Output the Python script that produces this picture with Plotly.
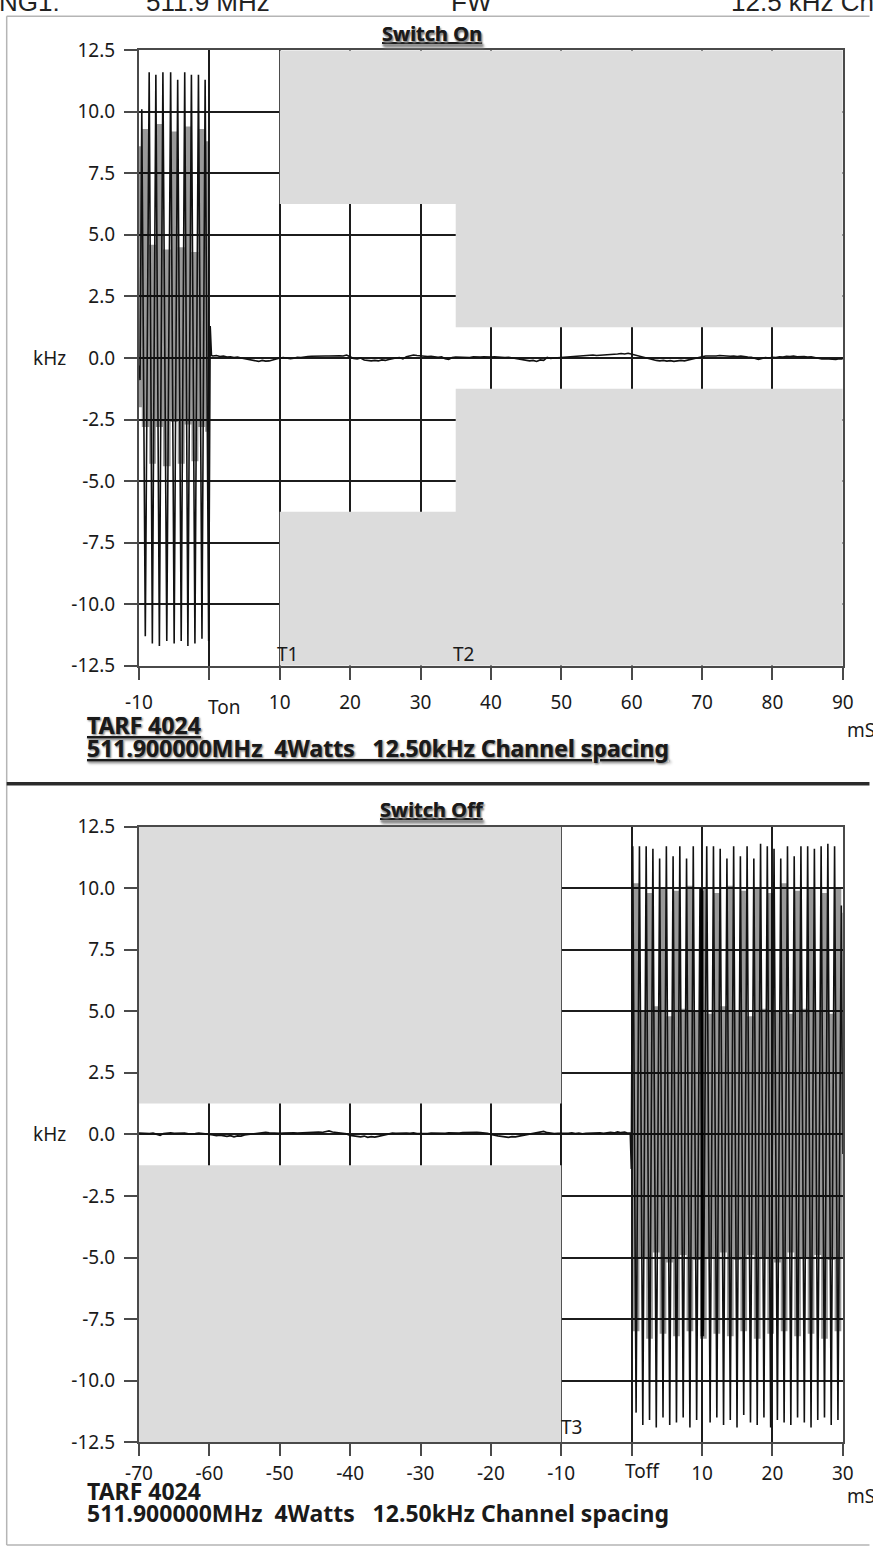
import numpy as np
import plotly.graph_objects as go

W, H = 873, 1556

# The photographed picture shows the page slightly shrunk with a thin margin;
# layout positions below are given in picture pixels and mapped back to page pixels.
SX, OX, SY, OY = 0.984, 13.4, 0.984, 12.8


def RX(p):
    return (p - OX) / SX


def RY(p):
    return (p - OY) / SY


def px_x(p):
    return RX(p) / W


def px_y(p):
    return 1 - RY(p) / H


# ======================= DATA =======================
# ---- Switch On panel (time in mS, deviation in kHz) ----
on_burst_ms = [-10.0, -9.85, -9.6, -9.1, -8.55, -8.1, -7.6, -7.1, -6.6, -6.05,
               -5.5, -5.0, -4.5, -4.0, -3.5, -3.05, -2.55, -2.05, -1.55, -1.05,
               -0.6, -0.1, 0.12, 0.3]
on_burst_khz = [-0.3, -0.9, 10.1, -11.3, 11.6, -11.6, 11.5, -11.7, 11.6, -11.5,
                11.6, -11.6, 11.3, -11.5, 11.6, -11.7, 11.5, -11.6, 11.5, -11.4,
                11.3, -11.5, 1.3, 0.1]
# residual deviation after Ton, sampled every 0.5 mS from 0.5 mS
on_noise_khz = [
    0.08, 0.1, 0.06, 0.08,
    0.04, 0.05, 0.02, 0.04, 0.0, -0.03, -0.06,
    -0.1, -0.12, -0.14, -0.1, -0.13, -0.12, -0.08, -0.02, 0.0,
    0.02, 0.0, -0.03, -0.01, 0.03, 0.02, 0.05, 0.06,
    0.07, 0.08, 0.08, 0.09, 0.08, 0.08, 0.09, 0.08, 0.09, 0.08, 0.12, 0.05,
    -0.02, -0.04, 0.0, -0.08, -0.1, -0.12, -0.1, -0.12,
    -0.08, -0.1, -0.06, -0.02, 0.0, 0.02, -0.04, 0.05,
    0.1, 0.12, 0.1, 0.08, 0.09, 0.06, 0.07, 0.04, 0.03, 0.05, -0.03,
    -0.06, 0.02, 0.04, 0.03, 0.05, 0.04, 0.02, 0.05, 0.03, 0.04, 0.05, 0.03, 0.04,
    0.05, 0.03, 0.04, 0.02, 0.03, 0.0, -0.03, -0.05, -0.08, -0.1, -0.12, -0.1,
    -0.14, -0.08, -0.1, 0.02, -0.02, 0.0, 0.01, 0.03, 0.02, 0.04, 0.05, 0.07,
    0.08, 0.09, 0.1, 0.1, 0.12, 0.1, 0.11, 0.1, 0.12, 0.14, 0.12, 0.16,
    0.18, 0.16, 0.19, 0.15, 0.13, 0.08, 0.06, 0.02,
    -0.04, -0.08, -0.1, -0.12, -0.1, -0.13, -0.11, -0.14, -0.12, -0.1, -0.12, -0.08, -0.06, -0.02,
    0.02, 0.05, 0.08, 0.07, 0.09, 0.08, 0.1, 0.08, 0.09, 0.07, 0.08, 0.06, 0.08, 0.05, 0.04, 0.03,
    -0.02, -0.06, -0.02, 0.02, 0.0, 0.03, 0.02,
    0.05, 0.04, 0.07, 0.06, 0.08, 0.05, 0.07, 0.06, 0.04, 0.05, 0.02,
    -0.02, -0.04, -0.03, -0.05, -0.04, -0.06, -0.03, -0.04,
]
on_noise_step_ms = 0.5
# dense part of the burst (grey smear), column edges + envelopes
on_band_ms = [-10.0, -9.6, -8.55, -7.6, -6.6, -5.5, -4.5, -3.5, -2.55, -1.55, -0.6, -0.05]
on_band_hi = [8.6, 9.3, 4.6, 9.5, 4.4, 9.2, 4.5, 9.4, 4.3, 9.3, 8.8, 8.8]
on_band_lo = [-2.0, -2.8, -4.3, -2.8, -4.4, -2.6, -4.3, -2.7, -4.2, -2.8, -3.0, -3.0]
# limit mask: T1..T2 and T2..end
on_mask_ms = [10, 35, 90]
on_mask_khz = [6.25, 1.25]
on_xticks = [-10, 0, 10, 20, 30, 40, 50, 60, 70, 80, 90]
on_xtick_text = ["-10", "", "10", "20", "30", "40", "50", "60", "70", "80", "90"]

# ---- Switch Off panel ----
off_noise_start_ms = -70.0
off_noise_step_ms = 0.5
off_noise_khz = [
    0.05, 0.04, 0.06, 0.03, 0.05, 0.02, -0.04, 0.03, 0.05, 0.06, 0.04, 0.05,
    0.07, 0.05, 0.02, 0.04, 0.03, 0.05, 0.04, 0.02,
    0.0, -0.02, -0.05, -0.03, -0.06, -0.08, -0.05, -0.1, -0.06, -0.07,
    -0.02, 0.0, 0.03, 0.05, 0.04, 0.06, 0.08, 0.06, 0.05, 0.03,
    0.04, 0.05, 0.06, 0.05, 0.06, 0.05, 0.06, 0.07, 0.08, 0.06,
    0.07, 0.09, 0.08, 0.12, 0.14, 0.1, 0.08, 0.06, 0.04, 0.02,
    -0.04, -0.06, -0.08, -0.1, -0.07, -0.12, -0.09, -0.11, -0.08, -0.05,
    -0.02, 0.03, 0.05, 0.04, 0.05, 0.06, 0.05, 0.04, 0.06, 0.03,
    0.02, 0.04, 0.03, 0.05, 0.04, 0.03, 0.05, 0.04, 0.06, 0.05,
    0.06, 0.05, 0.07, 0.08, 0.07, 0.09, 0.08, 0.07, 0.06, 0.04,
    0.0, -0.04, -0.06, -0.08, -0.1, -0.12, -0.09, -0.1, -0.07, -0.04,
    -0.02, 0.02, 0.04, 0.05, 0.08, 0.12, 0.07, 0.05, 0.03, 0.04,
    0.03, 0.05, 0.04, 0.06, 0.03, 0.05, 0.02, 0.04, 0.05, 0.03,
    0.05, 0.06, 0.04, 0.07, 0.08, 0.06, 0.1, 0.07, 0.09, 0.05,
]
off_lead_ms = [-0.2, -0.05]
off_lead_khz = [0.05, -1.4]
off_burst_start_ms = 0.15
off_burst_half_period_ms = 0.478
off_burst_peaks = [11.7, 11.7, 11.7, 11.6, 11.2, 11.7, 11.3, 11.7, 11.2, 11.7, 10.0,
                   11.7, 11.7, 11.6, 11.2, 11.7, 11.3, 11.7, 11.2, 11.8, 11.7, 11.6,
                   11.2, 11.7, 11.3, 11.7, 11.7, 11.6, 11.7, 11.8, 11.7, 9.3]
off_burst_troughs = [-11.3, -11.8, -11.6, -11.9, -11.5, -11.8, -11.7, -11.5, -11.9, -11.6,
                     -8.2, -11.7, -11.5, -11.8, -11.6, -11.9, -11.4, -11.7, -11.8, -11.5,
                     -11.9, -11.6, -11.7, -11.8, -11.5, -11.7, -11.9, -11.6, -11.5, -11.8,
                     -11.6]
off_tail_ms = [30.0]
off_tail_khz = [-0.8]
off_glitch_ms = [9.9, 9.97, 10.03, 10.1]
off_glitch_khz = [10.0, -8.2, 9.9, -8.0]
off_band_hi = [10.2, 5.0, 9.8, 5.2, 10.0, 4.8, 9.9, 5.1, 10.1, 5.0, 10.0, 4.9, 9.8, 5.2,
               10.1, 5.0, 9.9, 4.8, 10.0, 5.1, 9.8, 5.0, 10.2, 4.9, 9.9, 5.1, 10.0, 5.0,
               9.8, 4.9, 10.0, 9.0, 9.0]
off_band_lo = [-8.0, -5.0, -8.3, -4.8, -8.1, -5.2, -8.2, -4.9, -8.0, -5.1, -8.3, -5.0,
               -8.1, -4.8, -8.2, -5.1, -8.0, -4.9, -8.3, -5.0, -8.1, -5.2, -8.0, -4.8,
               -8.2, -5.0, -8.1, -4.9, -8.3, -5.1, -8.0, -5.0, -5.0]
off_mask_ms = [-70, -10]
off_mask_khz = [1.25]
off_xticks = [-70, -60, -50, -40, -30, -20, -10, 0, 10, 20, 30]
off_xtick_text = ["-70", "-60", "-50", "-40", "-30", "-20", "-10", "", "10", "20", "30"]

y_ticks = [12.5, 10.0, 7.5, 5.0, 2.5, 0.0, -2.5, -5.0, -7.5, -10.0, -12.5]
y_tick_text = ["12.5", "10.0", "7.5", "5.0", "2.5", "0.0", "-2.5", "-5.0", "-7.5", "-10.0", "-12.5"]

header_labels = ["NG1:", "511.9 MHz", "FW", "12.5 kHz Ch"]
caption_1 = "TARF 4024"
caption_2 = "511.900000MHz\u00a0\u00a04Watts\u00a0\u00a0\u00a012.50kHz Channel spacing"

# ======================= BUILD =======================
FONT = "Noto Sans, Open Sans, sans-serif"
INK = "#111111"
GRID = "#1c1c1c"
MASK = "#dcdcdc"
BAND = "rgba(0,0,0,0.40)"

on_noise_ms = (np.arange(len(on_noise_khz)) + 1) * on_noise_step_ms
on_x = list(on_burst_ms) + list(on_noise_ms)
on_y = list(on_burst_khz) + list(on_noise_khz)

off_noise_ms = off_noise_start_ms + np.arange(len(off_noise_khz)) * off_noise_step_ms
off_burst_vals = []
for i in range(len(off_burst_peaks)):
    off_burst_vals.append(off_burst_peaks[i])
    if i < len(off_burst_troughs):
        off_burst_vals.append(off_burst_troughs[i])
off_burst_ms = off_burst_start_ms + np.arange(len(off_burst_vals)) * off_burst_half_period_ms
off_x = list(off_noise_ms) + off_lead_ms + list(off_burst_ms) + off_tail_ms
off_y = list(off_noise_khz) + off_lead_khz + off_burst_vals + off_tail_khz
off_band_ms = list(off_burst_ms[0::2]) + off_tail_ms

fig = go.Figure()


def add_band(xs, lo, hi, xa, ya):
    fig.add_trace(go.Scatter(x=xs, y=lo, mode="lines", line=dict(width=0, shape="hv"),
                             xaxis=xa, yaxis=ya, hoverinfo="skip", showlegend=False))
    fig.add_trace(go.Scatter(x=xs, y=hi, mode="lines", line=dict(width=0, shape="hv"),
                             fill="tonexty", fillcolor=BAND,
                             xaxis=xa, yaxis=ya, hoverinfo="skip", showlegend=False))


add_band(on_band_ms, on_band_lo, on_band_hi, "x", "y")
fig.add_trace(go.Scatter(x=on_x, y=on_y, mode="lines", line=dict(color=INK, width=1.6),
                         xaxis="x", yaxis="y", hoverinfo="skip", showlegend=False))

add_band(off_band_ms, off_band_lo, off_band_hi, "x2", "y2")
fig.add_trace(go.Scatter(x=off_x, y=off_y, mode="lines", line=dict(color=INK, width=1.6),
                         xaxis="x2", yaxis="y2", hoverinfo="skip", showlegend=False))
fig.add_trace(go.Scatter(x=off_glitch_ms, y=off_glitch_khz, mode="lines",
                         line=dict(color="#000000", width=2.2),
                         xaxis="x2", yaxis="y2", hoverinfo="skip", showlegend=False))

# limit masks
shapes = []


def mask_path(ts, lims, ymax, sign):
    pts = [(ts[0], sign * ymax)]
    for i, lim in enumerate(lims):
        pts.append((ts[i], sign * lim))
        pts.append((ts[i + 1], sign * lim))
    pts.append((ts[-1], sign * ymax))
    return "M " + " L ".join(f"{a},{b}" for a, b in pts) + " Z"


for sign in (1, -1):
    shapes.append(dict(type="path", xref="x", yref="y", layer="between",
                       path=mask_path(on_mask_ms, on_mask_khz, 12.5, sign),
                       fillcolor=MASK, line=dict(width=0)))
    shapes.append(dict(type="path", xref="x2", yref="y2", layer="between",
                       path=mask_path(off_mask_ms, off_mask_khz, 12.5, sign),
                       fillcolor=MASK, line=dict(width=0)))

# outer frame and separator (picture pixels)
frame_col = "#b5b5b5"
shapes.append(dict(type="line", xref="paper", yref="paper", x0=px_x(6), x1=px_x(6),
                   y0=px_y(1546), y1=px_y(16), line=dict(color=frame_col, width=1.5)))
shapes.append(dict(type="line", xref="paper", yref="paper", x0=px_x(6), x1=px_x(880),
                   y0=px_y(16), y1=px_y(16), line=dict(color=frame_col, width=1.5)))
shapes.append(dict(type="line", xref="paper", yref="paper", x0=px_x(6), x1=px_x(880),
                   y0=px_y(1546), y1=px_y(1546), line=dict(color=frame_col, width=1.5)))
shapes.append(dict(type="line", xref="paper", yref="paper", x0=px_x(6), x1=px_x(880),
                   y0=px_y(784), y1=px_y(784), line=dict(color="#2a2a2a", width=3.5)))

tick_font = dict(family=FONT, size=19, color="#1a1a1a")
axis_common = dict(showline=True, mirror=True, linecolor="#4a4a4a", linewidth=2,
                   showgrid=True, gridcolor=GRID, gridwidth=1.7, zeroline=False,
                   ticks="outside", tickcolor="#4a4a4a", tickwidth=1.5,
                   tickfont=tick_font)

x_dom = [px_x(140), px_x(853)]
fig.update_layout(
    width=W, height=H, margin=dict(l=0, r=0, t=0, b=0),
    paper_bgcolor="white", plot_bgcolor="white", showlegend=False,
    xaxis=dict(domain=x_dom, range=[-10, 90], anchor="y", tickvals=on_xticks,
               ticktext=on_xtick_text, ticklen=12, ticklabelstandoff=6, **axis_common),
    yaxis=dict(domain=[px_y(666), px_y(50)], range=[-12.5, 12.5], anchor="x",
               tickvals=y_ticks, ticktext=y_tick_text, ticklen=13,
               ticklabelstandoff=5, **axis_common),
    xaxis2=dict(domain=x_dom, range=[-70, 30], anchor="y2", tickvals=off_xticks,
                ticktext=off_xtick_text, ticklen=12, ticklabelstandoff=1, **axis_common),
    yaxis2=dict(domain=[px_y(1443), px_y(827)], range=[-12.5, 12.5], anchor="x2",
                tickvals=y_ticks, ticktext=y_tick_text, ticklen=13,
                ticklabelstandoff=5, **axis_common),
    shapes=shapes,
)

ann = []
txt = dict(family=FONT, size=19, color="#1a1a1a")
bold = dict(family=FONT, size=23, color="#1a1a1a")


def A(text, x, y, xref="paper", yref="paper", xanchor="center", yanchor="middle", font=txt, **kw):
    ann.append(dict(text=text, x=x, y=y, xref=xref, yref=yref, xanchor=xanchor,
                    yanchor=yanchor, showarrow=False, font=font, **kw))


# header, cut by the top edge of the picture
for label, xp in zip(header_labels, [-4, 145, 454, 738]):
    A(label, px_x(xp), px_y(2), xanchor="left",
      font=dict(family="Liberation Sans, Arial", size=26, color="#222"))

# titles
title_font = dict(family=FONT, size=20, color="#1a1a1a", shadow="1px 2px 2px #888")
A("<b><u>Switch On</u></b>", px_x(437), px_y(33), font=title_font)
A("<b><u>Switch Off</u></b>", px_x(437), px_y(810), font=title_font)

# kHz labels
A("kHz", px_x(49), 0, yref="y")
A("kHz", px_x(49), 0, yref="y2")

# marker labels
A("T1", px_x(290), px_y(654), font=txt)
A("T2", px_x(469), px_y(654), font=txt)
A("T3", px_x(578), px_y(1428), font=txt)
A("Ton", px_x(226), px_y(707), font=txt)
A("Toff", px_x(650), px_y(1472), font=txt)

# mS (cut by the right edge of the picture)
A("mS", px_x(855), px_y(730), xanchor="left", font=txt)
A("mS", px_x(855), px_y(1497), xanchor="left", font=txt)

# captions
cap_shadow = dict(bold, shadow="1px 1px 2px #999")
A(f"<b><u>{caption_1}</u></b>", px_x(85), px_y(725), xanchor="left", font=cap_shadow)
A(f"<b><u>{caption_2}</u></b>", px_x(85), px_y(748), xanchor="left", font=cap_shadow)
A(f"<b>{caption_1}</b>", px_x(85), px_y(1492), xanchor="left", font=bold)
A(f"<b>{caption_2}</b>", px_x(85), px_y(1514), xanchor="left", font=bold)

fig.update_layout(annotations=ann)

page_fix = (
    "document.documentElement.style.margin='0';"
    "document.body.style.margin='0';"
)
fig.write_html("out.html", config={"displayModeBar": False}, post_script=page_fix)
